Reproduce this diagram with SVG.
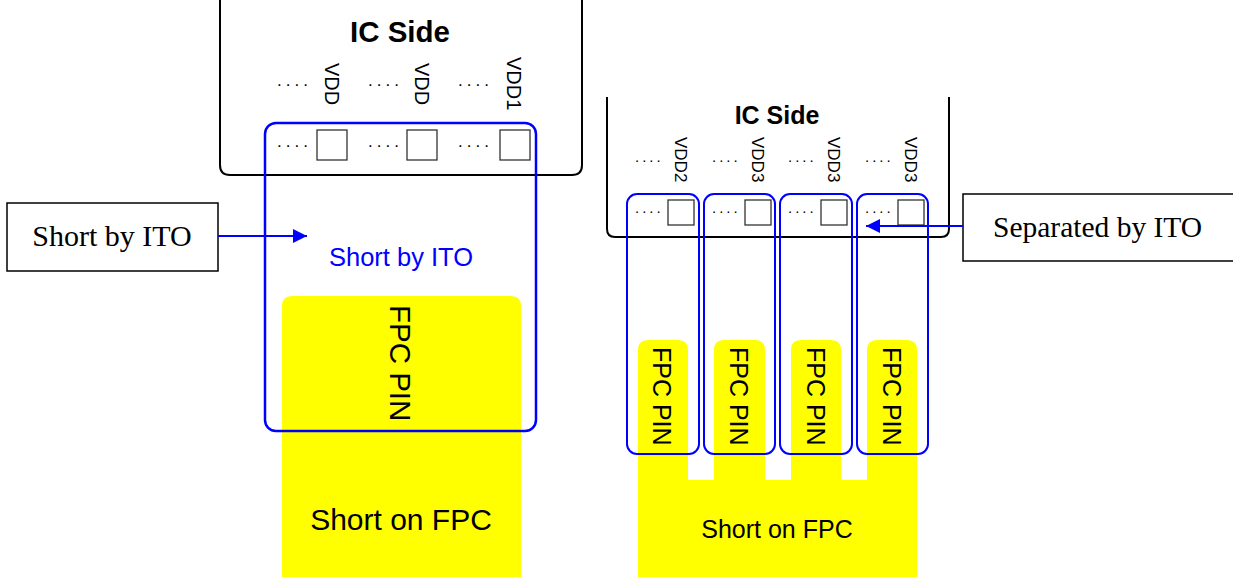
<svg xmlns="http://www.w3.org/2000/svg" width="1233" height="577" viewBox="0 0 1233 577">
<style>
.ic{fill:none;stroke:#000;stroke-width:2}
.pad{fill:#fff;stroke:#333;stroke-width:1.3}
.ito{fill:none;stroke:#0000ff;stroke-width:2.5}
.ito2{fill:none;stroke:#0000ff;stroke-width:2}
.yel{fill:#ffff00}
.sans{font-family:"Liberation Sans",Arial,sans-serif;fill:#000}
.serif{font-family:"Liberation Serif","Times New Roman",serif;fill:#000}
.bold{font-weight:bold}
.dots{font-family:"Liberation Sans",Arial,sans-serif;fill:#000}
.box{fill:#fff;stroke:#000;stroke-width:1.5}
.conn{stroke:#0000ff;stroke-width:2;fill:none}
</style>
<defs>
<marker id="ah" viewBox="0 0 10 10" refX="10" refY="5" markerWidth="7" markerHeight="7" orient="auto" markerUnits="strokeWidth">
<path d="M0,0 L10,5 L0,10 z" fill="#0000ff"/>
</marker>
</defs>
<rect width="1233" height="577" fill="#fff"/>

<g id="left-fpc">
<path class="yel" d="M282,577 V306 Q282,296 292,296 H511 Q521,296 521,306 V577 z"/>
<text class="sans" font-size="29.5" transform="translate(390,305) rotate(90)">FPC PIN</text>
<text class="sans" font-size="30" x="401" y="530" text-anchor="middle">Short on FPC</text>
</g>

<g id="left-ic">
<path class="ic" d="M220,0 V165 Q220,175 230,175 H572 Q582,175 582,165 V0"/>
<text class="sans bold" font-size="29.5" x="400" y="42" text-anchor="middle">IC Side</text>
<text class="sans" font-size="20" transform="translate(325,63) rotate(90)">VDD</text>
<text class="sans" font-size="20" transform="translate(415,63) rotate(90)">VDD</text>
<text class="sans" font-size="20" transform="translate(507,57) rotate(90)">VDD1</text>
<text class="dots" font-size="17" letter-spacing="4" x="277" y="86">....</text>
<text class="dots" font-size="17" letter-spacing="4" x="368" y="86">....</text>
<text class="dots" font-size="17" letter-spacing="4" x="458" y="86">....</text>
<text class="dots" font-size="17" letter-spacing="4" x="277" y="147">....</text>
<text class="dots" font-size="17" letter-spacing="4" x="368" y="147">....</text>
<text class="dots" font-size="17" letter-spacing="4" x="458" y="147">....</text>
<rect class="pad" x="317" y="130" width="30" height="30"/>
<rect class="pad" x="407" y="130" width="30" height="30"/>
<rect class="pad" x="500" y="130" width="30" height="30"/>
</g>

<g id="left-ito">
<rect class="ito" x="265" y="123" width="271" height="308" rx="11"/>
<text class="sans" font-size="25.5" style="fill:#0000ff" x="401" y="266" text-anchor="middle">Short by ITO</text>
</g>

<g id="right-fpc">
<path class="yel" d="M638,577 V350 Q638,340 648,340 H678 Q688,340 688,350 V480 H714 V350 Q714,340 724,340 H755 Q765,340 765,350 V480 H791 V350 Q791,340 801,340 H831 Q841,340 841,350 V480 H867 V350 Q867,340 877,340 H907 Q917,340 917,350 V577 z"/>
<text class="sans" font-size="25" transform="translate(653,347) rotate(90)">FPC PIN</text>
<text class="sans" font-size="25" transform="translate(730,347) rotate(90)">FPC PIN</text>
<text class="sans" font-size="25" transform="translate(807,347) rotate(90)">FPC PIN</text>
<text class="sans" font-size="25" transform="translate(883,347) rotate(90)">FPC PIN</text>
<text class="sans" font-size="25" x="777" y="538" text-anchor="middle">Short on FPC</text>
</g>

<g id="right-ic">
<path class="ic" d="M607,97 V229 Q607,237 615,237 H941 Q949,237 949,229 V97"/>
<text class="sans bold" font-size="25" x="777" y="124" text-anchor="middle">IC Side</text>
<text class="sans" font-size="17" transform="translate(675,137) rotate(90)">VDD2</text>
<text class="sans" font-size="17" transform="translate(752,137) rotate(90)">VDD3</text>
<text class="sans" font-size="17" transform="translate(828,137) rotate(90)">VDD3</text>
<text class="sans" font-size="17" transform="translate(905,137) rotate(90)">VDD3</text>
<text class="dots" font-size="15" letter-spacing="3" x="635" y="162">....</text>
<text class="dots" font-size="15" letter-spacing="3" x="712" y="162">....</text>
<text class="dots" font-size="15" letter-spacing="3" x="788" y="162">....</text>
<text class="dots" font-size="15" letter-spacing="3" x="865" y="162">....</text>
<text class="dots" font-size="15" letter-spacing="3" x="635" y="213">....</text>
<text class="dots" font-size="15" letter-spacing="3" x="712" y="213">....</text>
<text class="dots" font-size="15" letter-spacing="3" x="788" y="213">....</text>
<text class="dots" font-size="15" letter-spacing="3" x="865" y="213">....</text>
<rect class="pad" x="668" y="200" width="26" height="25"/>
<rect class="pad" x="745" y="200" width="26" height="25"/>
<rect class="pad" x="821" y="200" width="26" height="25"/>
<rect class="pad" x="898" y="200" width="26" height="25"/>
</g>

<g id="right-ito">
<rect class="ito2" x="627" y="194" width="72" height="260" rx="10"/>
<rect class="ito2" x="704" y="194" width="71" height="260" rx="10"/>
<rect class="ito2" x="780" y="194" width="72" height="260" rx="10"/>
<rect class="ito2" x="857" y="194" width="71" height="260" rx="10"/>
</g>

<g id="label-short">
<rect class="box" x="7" y="203" width="211" height="68"/>
<text class="serif" font-size="30" x="112" y="246" text-anchor="middle">Short by ITO</text>
</g>

<g id="label-separated">
<rect class="box" x="963" y="194" width="275" height="67"/>
<text class="serif" font-size="29.5" x="993" y="237">Separated by ITO</text>
</g>

<g id="connectors">
<line class="conn" x1="218" y1="236" x2="307" y2="236" marker-end="url(#ah)"/>
<line class="conn" x1="963" y1="226" x2="866" y2="226" marker-end="url(#ah)"/>
</g>
</svg>
